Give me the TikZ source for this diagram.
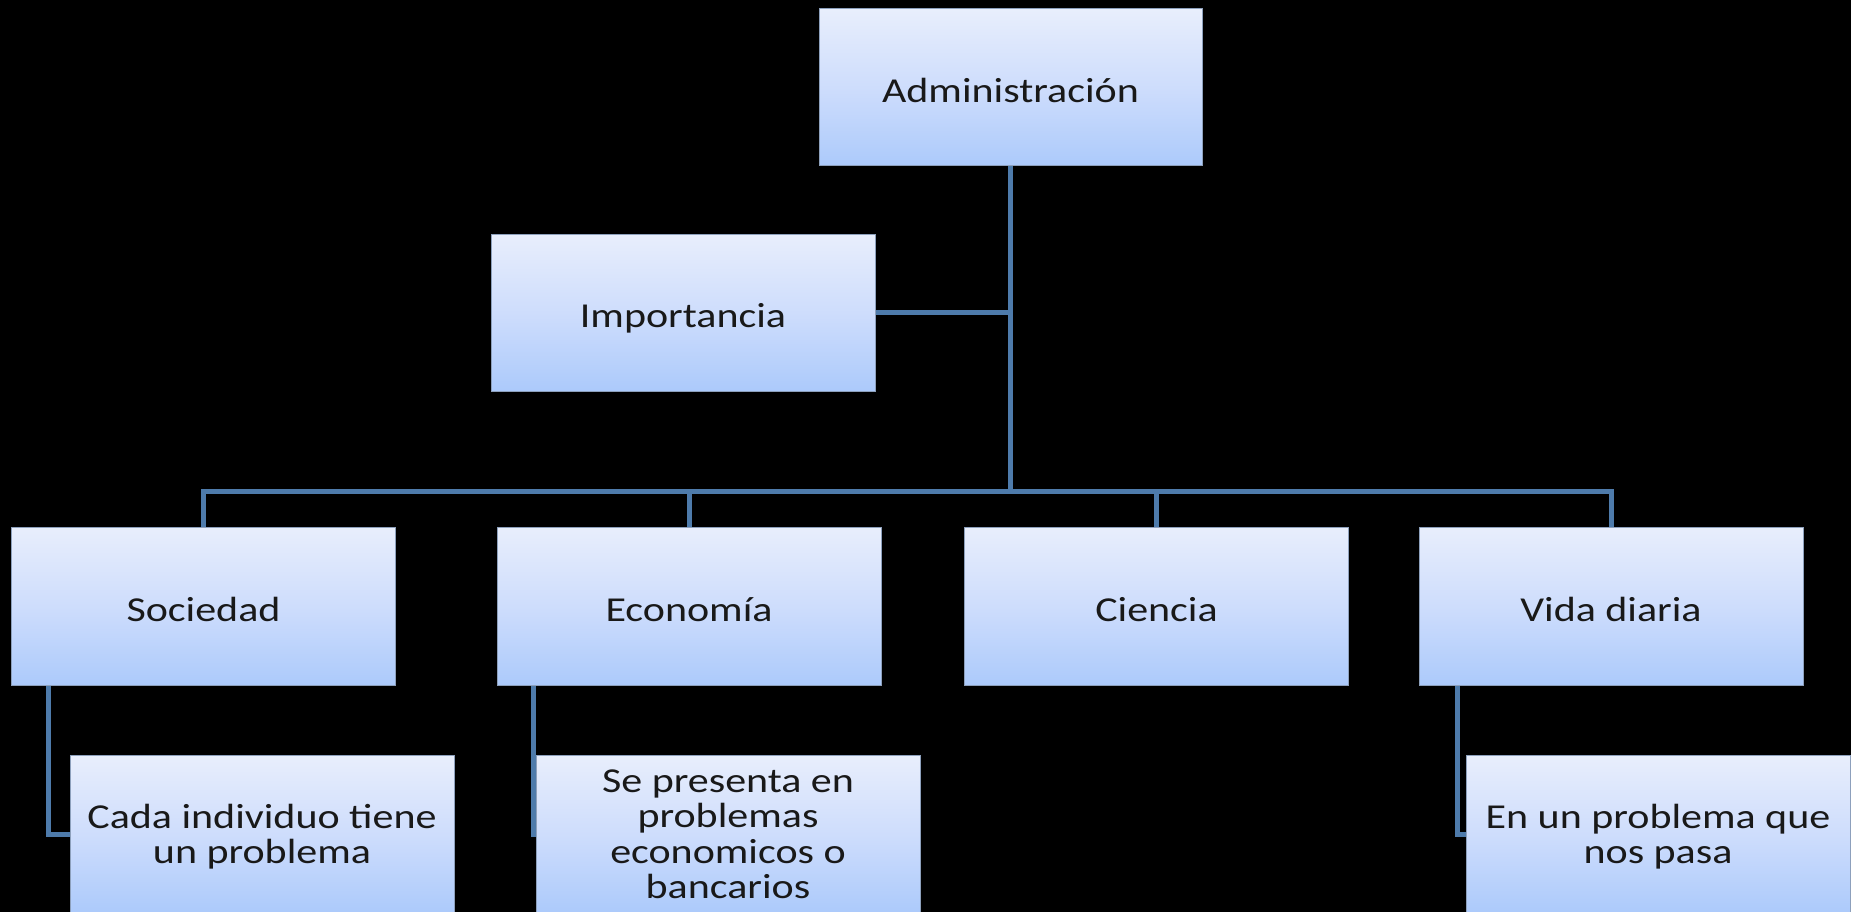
\documentclass[tikz,border=0pt]{standalone}
\usepackage{fontspec}
\setmainfont{Carlito}[FakeStretch=1.2]
\usetikzlibrary{backgrounds}
\definecolor{boxtop}{HTML}{E8EEFC}
\definecolor{boxmid}{HTML}{CEDDFC}
\definecolor{boxbot}{HTML}{ACCAFB}
\definecolor{boxline}{HTML}{8DA0BC}
\definecolor{connc}{HTML}{4E7BAB}
\tikzset{
  box/.style={rectangle, draw=boxline, line width=1pt, top color=boxtop, bottom color=boxbot, middle color=boxmid,
    minimum width=384pt, minimum height=158pt, inner sep=0pt, align=center, text=black!90,
    font=\fontsize{35pt}{35.5pt}\selectfont},
  oneline/.style={box, text height=32pt, text depth=2pt},
  twoline/.style={box, text depth=0pt},
  fourline/.style={box, text depth=-5pt},
  conn/.style={draw=connc, line width=5pt},
}
\begin{document}
\begin{tikzpicture}[x=1pt,y=-1pt]
\useasboundingbox (0,0) rectangle (1851,912);
\node[oneline, minimum width=383pt, minimum height=157pt] (adm) at (1010.5,87.5) {Administración};
\node[oneline, minimum height=157pt] (imp) at (683,312.5) {Importancia};
\node[oneline] (soc) at (203.5,606) {Sociedad};
\node[oneline] (eco) at (689,606) {Economía};
\node[oneline] (cie) at (1156.5,606) {Ciencia};
\node[oneline] (vid) at (1611,606) {Vida diaria};
\node[twoline] (cada) at (262,834) {Cada individuo tiene\\un problema};
\node[fourline] (se) at (728,834) {Se presenta en\\problemas\\economicos o\\bancarios};
\node[twoline] (en) at (1658,834) {En un problema que\\nos pasa};
\coordinate (bar) at (0,491);
\begin{scope}[on background layer]
\fill[black] (0,0) rectangle (1851,912);
\draw[conn] (adm.south) -- (adm.south |- bar);
\draw[conn] (imp.east) -- (imp.east -| adm.south);
\draw[conn] (soc.north) -- (soc.north |- bar) -- (vid.north |- bar) -- (vid.north);
\draw[conn] (eco.north) -- (eco.north |- bar);
\draw[conn] (cie.north) -- (cie.north |- bar);
\draw[conn] ([xshift=37pt]soc.south west) |- (cada.west);
\draw[conn] ([xshift=37pt]eco.south west) |- (se.west);
\draw[conn] ([xshift=39pt]vid.south west) |- (en.west);
\end{scope}
\end{tikzpicture}
\end{document}
